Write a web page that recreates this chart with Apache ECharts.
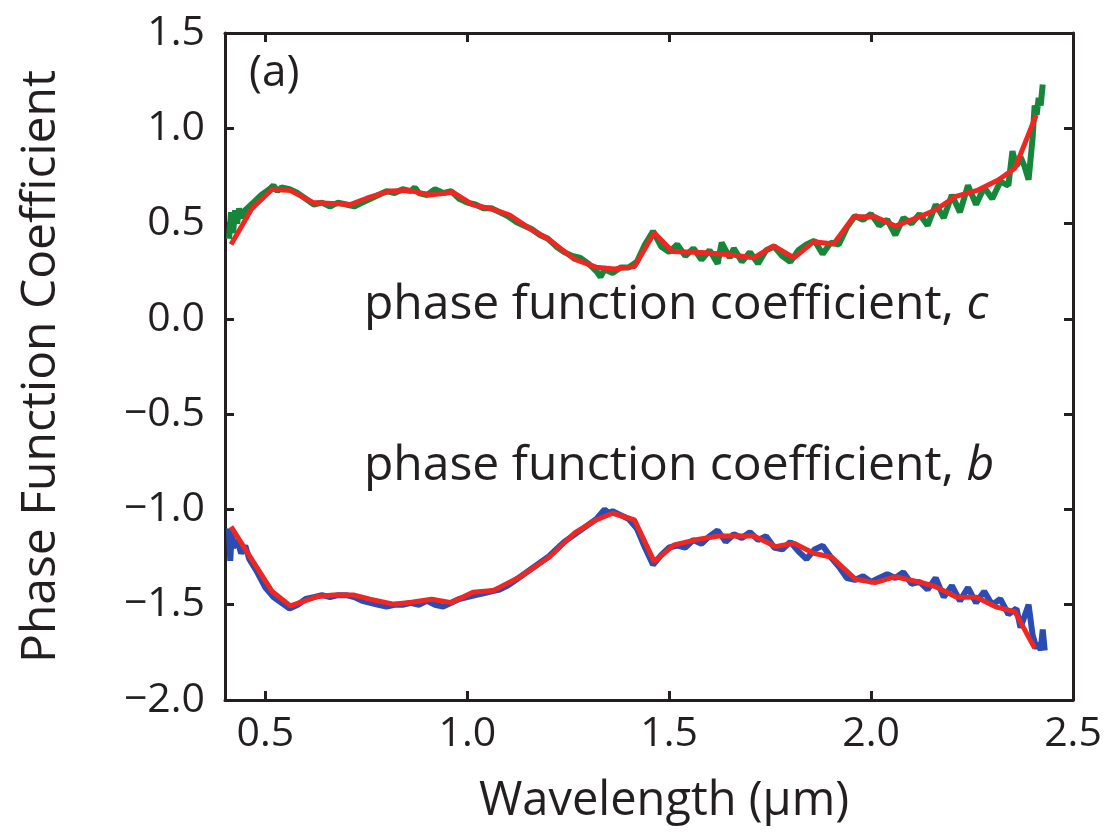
<!DOCTYPE html>
<html>
<head>
<meta charset="utf-8">
<script src="https://cdn.jsdelivr.net/npm/echarts@6/dist/echarts.min.js"></script>
<style>html,body{margin:0;padding:0;background:#fff}#chart{width:1111px;height:833px}</style>
</head>
<body>
<div id="chart"></div>
<script>
// ---- data ----
const xTicks = [0.5, 1.0, 1.5, 2.0, 2.5];
const yTicks = [-2.0, -1.5, -1.0, -0.5, 0.0, 0.5, 1.0, 1.5];

// coefficient c, measured (noisy, green)
const cWave = [0.41,0.415,0.42,0.425,0.43,0.435,0.44,0.45,0.47,0.49,0.51,0.52,0.53,0.54,0.56,0.58,0.60,0.62,0.64,0.66,0.68,0.70,0.72,0.74,0.76,0.78,0.80,0.82,0.84,0.86,0.87,0.88,0.90,0.92,0.94,0.96,0.98,1.00,1.02,1.04,1.06,1.08,1.10,1.12,1.14,1.16,1.18,1.20,1.22,1.24,1.26,1.28,1.30,1.32,1.33,1.34,1.36,1.38,1.40,1.42,1.44,1.46,1.47,1.48,1.50,1.52,1.54,1.56,1.58,1.60,1.62,1.63,1.65,1.66,1.68,1.70,1.72,1.74,1.76,1.78,1.80,1.82,1.84,1.86,1.88,1.90,1.92,1.94,1.96,1.98,2.00,2.02,2.04,2.06,2.08,2.10,2.12,2.14,2.16,2.18,2.20,2.22,2.24,2.26,2.28,2.30,2.32,2.34,2.35,2.36,2.37,2.38,2.39,2.40,2.405,2.41,2.415,2.42,2.425];
const cNoisy = [0.42,0.56,0.45,0.57,0.50,0.58,0.53,0.57,0.61,0.65,0.68,0.70,0.67,0.69,0.68,0.66,0.63,0.60,0.61,0.59,0.61,0.60,0.59,0.61,0.63,0.65,0.67,0.66,0.68,0.67,0.69,0.66,0.65,0.68,0.66,0.67,0.63,0.61,0.60,0.58,0.58,0.56,0.54,0.51,0.49,0.47,0.44,0.42,0.38,0.35,0.33,0.32,0.29,0.25,0.22,0.26,0.24,0.27,0.27,0.30,0.39,0.46,0.42,0.38,0.35,0.39,0.33,0.37,0.31,0.36,0.29,0.40,0.32,0.37,0.30,0.35,0.29,0.36,0.38,0.33,0.30,0.36,0.39,0.41,0.34,0.40,0.39,0.48,0.54,0.52,0.55,0.49,0.52,0.44,0.53,0.50,0.55,0.49,0.60,0.53,0.65,0.56,0.70,0.60,0.69,0.63,0.72,0.70,0.88,0.80,0.85,0.80,0.73,0.95,1.12,1.07,1.16,1.12,1.23];

// coefficient c, fit (red)
const cFitWave = [0.415,0.467,0.517,0.562,0.619,0.710,0.751,0.809,0.858,0.907,0.965,1.014,1.064,1.105,1.154,1.204,1.265,1.319,1.364,1.414,1.463,1.508,1.591,1.656,1.710,1.759,1.809,1.858,1.907,1.957,2.010,2.060,2.126,2.159,2.208,2.265,2.315,2.356,2.409];
const cFit = [0.39,0.58,0.68,0.673,0.61,0.60,0.633,0.671,0.673,0.65,0.664,0.598,0.575,0.545,0.475,0.414,0.313,0.271,0.262,0.274,0.452,0.353,0.347,0.335,0.321,0.383,0.320,0.405,0.393,0.536,0.536,0.487,0.541,0.571,0.641,0.676,0.729,0.790,1.07];

// coefficient b, measured (noisy, blue)
const bWave = [0.41,0.413,0.417,0.42,0.43,0.44,0.45,0.46,0.48,0.50,0.52,0.54,0.56,0.58,0.60,0.62,0.64,0.66,0.68,0.70,0.72,0.74,0.76,0.78,0.80,0.82,0.84,0.86,0.88,0.90,0.92,0.94,0.96,0.98,1.00,1.02,1.04,1.06,1.08,1.10,1.12,1.14,1.16,1.18,1.20,1.22,1.24,1.26,1.28,1.30,1.32,1.34,1.35,1.36,1.38,1.40,1.42,1.44,1.46,1.48,1.50,1.52,1.54,1.56,1.58,1.60,1.62,1.64,1.66,1.68,1.70,1.72,1.74,1.76,1.78,1.80,1.82,1.84,1.86,1.88,1.90,1.92,1.94,1.96,1.98,2.00,2.02,2.04,2.06,2.08,2.10,2.12,2.14,2.16,2.18,2.20,2.22,2.24,2.26,2.28,2.30,2.32,2.34,2.36,2.37,2.38,2.39,2.40,2.41,2.415,2.42,2.425,2.43];
const bNoisy = [-1.10,-1.27,-1.12,-1.20,-1.16,-1.23,-1.19,-1.26,-1.33,-1.41,-1.46,-1.49,-1.52,-1.50,-1.47,-1.46,-1.45,-1.46,-1.45,-1.45,-1.46,-1.48,-1.49,-1.50,-1.51,-1.50,-1.50,-1.49,-1.50,-1.48,-1.50,-1.51,-1.49,-1.47,-1.46,-1.45,-1.44,-1.43,-1.42,-1.40,-1.37,-1.34,-1.31,-1.28,-1.25,-1.21,-1.17,-1.14,-1.11,-1.08,-1.05,-1.00,-1.02,-1.01,-1.03,-1.05,-1.10,-1.20,-1.29,-1.24,-1.20,-1.19,-1.20,-1.16,-1.18,-1.14,-1.11,-1.17,-1.13,-1.15,-1.12,-1.16,-1.14,-1.20,-1.21,-1.17,-1.22,-1.26,-1.21,-1.19,-1.25,-1.30,-1.36,-1.37,-1.35,-1.38,-1.36,-1.34,-1.36,-1.33,-1.39,-1.38,-1.42,-1.36,-1.46,-1.40,-1.48,-1.41,-1.49,-1.43,-1.50,-1.47,-1.55,-1.52,-1.62,-1.56,-1.50,-1.66,-1.73,-1.70,-1.74,-1.63,-1.74];

// coefficient b, fit (red)
const bFitWave = [0.415,0.467,0.517,0.562,0.628,0.669,0.718,0.759,0.817,0.862,0.912,0.961,1.014,1.064,1.130,1.204,1.265,1.319,1.360,1.414,1.463,1.512,1.574,1.623,1.710,1.763,1.809,1.858,1.903,1.961,2.010,2.060,2.126,2.159,2.212,2.261,2.311,2.356,2.405];
const bFit = [-1.09,-1.265,-1.431,-1.506,-1.457,-1.449,-1.449,-1.471,-1.497,-1.487,-1.471,-1.489,-1.434,-1.426,-1.355,-1.248,-1.125,-1.055,-1.02,-1.055,-1.274,-1.186,-1.156,-1.139,-1.139,-1.195,-1.177,-1.23,-1.251,-1.366,-1.384,-1.353,-1.384,-1.405,-1.461,-1.461,-1.513,-1.536,-1.728];

// ---- chart ----
const FONT = '"Open Sans", "Noto Sans", sans-serif';
const INK = '#231f20';
const pairs = (xs, ys) => xs.map((x, i) => [x, ys[i]]);
const fmt = v => v.toFixed(1).replace('-', '\u2212');

const frameAxisLine = { show: true, onZero: false, lineStyle: { color: INK, width: 3 } };
const tick = vals => ({ show: true, inside: true, length: 9, customValues: vals, lineStyle: { color: INK, width: 3 } });

const chart = echarts.init(document.getElementById('chart'), null, { renderer: 'canvas' });
chart.setOption({
  animation: false,
  backgroundColor: '#ffffff',
  grid: { left: 225, right: 38, top: 33, bottom: 133, containLabel: false },
  xAxis: [
    {
      type: 'value', min: 0.4, max: 2.5, position: 'bottom',
      axisLine: frameAxisLine, axisTick: tick(xTicks), splitLine: { show: false },
      axisLabel: { customValues: xTicks, formatter: fmt, fontSize: 41, fontFamily: FONT, color: INK, margin: 14 },
      name: 'Wavelength (\u03bcm)', nameLocation: 'middle', nameGap: 78,
      nameTextStyle: { fontSize: 47, fontFamily: FONT, color: INK, padding: [0, 0, 0, 30] }
    },
    {
      type: 'value', min: 0.4, max: 2.5, position: 'top',
      axisLine: frameAxisLine, axisTick: tick(xTicks), splitLine: { show: false },
      axisLabel: { show: false }
    }
  ],
  yAxis: [
    {
      type: 'value', min: -2, max: 1.5, interval: 0.5, position: 'left',
      axisLine: frameAxisLine, axisTick: tick(yTicks), splitLine: { show: false },
      axisLabel: { formatter: fmt, fontSize: 41, fontFamily: FONT, color: INK, margin: 20 },
      name: 'Phase Function Coefficient', nameLocation: 'middle', nameGap: 160, nameRotate: 90,
      nameTextStyle: { fontSize: 48, fontFamily: FONT, color: INK }
    },
    {
      type: 'value', min: -2, max: 1.5, interval: 0.5, position: 'right',
      axisLine: frameAxisLine, axisTick: tick(yTicks), splitLine: { show: false },
      axisLabel: { show: false }
    }
  ],
  series: [
    { type: 'line', data: pairs(cWave, cNoisy), showSymbol: false, z: 2,
      lineStyle: { color: '#16873a', width: 6 } },
    { type: 'line', data: pairs(bWave, bNoisy), showSymbol: false, z: 2,
      lineStyle: { color: '#2b4db3', width: 6 } },
    { type: 'line', data: pairs(cFitWave, cFit), showSymbol: false, z: 3,
      lineStyle: { color: '#ee2722', width: 5 } },
    { type: 'line', data: pairs(bFitWave, bFit), showSymbol: false, z: 3,
      lineStyle: { color: '#ee2722', width: 5 } }
  ],
  graphic: [
    { type: 'text', left: 249, top: 51, z: 10,
      style: { text: '(a)', fontSize: 44, fontFamily: FONT, fill: INK } },
    { type: 'text', left: 364, top: 281, z: 10,
      style: { text: '{n|phase function coefficient, }{i|c}', fill: INK,
        rich: { n: { fontSize: 48, fontFamily: FONT, fill: INK },
                i: { fontSize: 48, fontFamily: FONT, fontStyle: 'italic', fill: INK } } } },
    { type: 'text', left: 364, top: 442, z: 10,
      style: { text: '{n|phase function coefficient, }{i|b}', fill: INK,
        rich: { n: { fontSize: 48, fontFamily: FONT, fill: INK },
                i: { fontSize: 48, fontFamily: FONT, fontStyle: 'italic', fill: INK } } } }
  ]
});
</script>
</body>
</html>
